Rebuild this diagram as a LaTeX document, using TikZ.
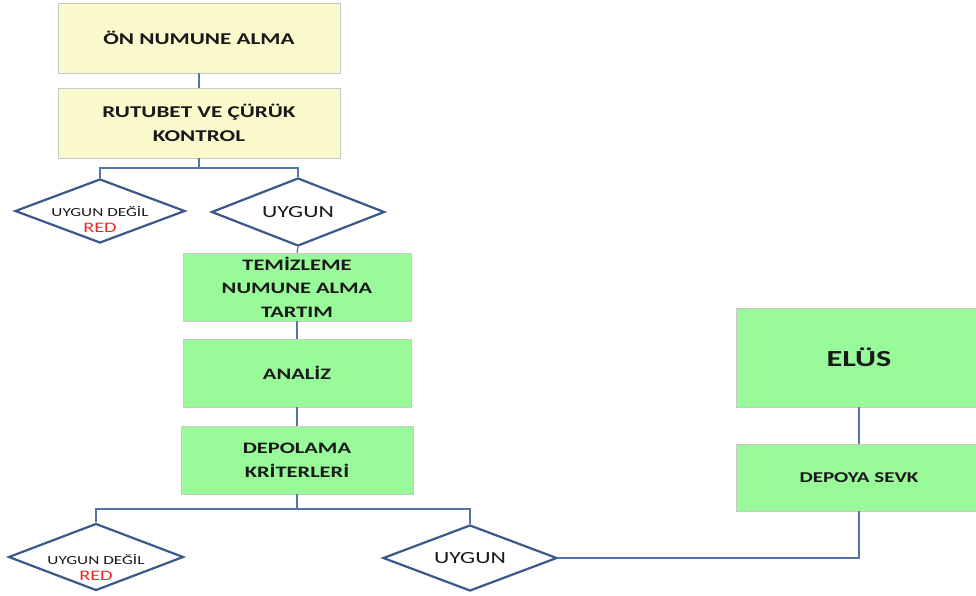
\documentclass[tikz,border=0pt]{standalone}
\usepackage{fontspec}
\setmainfont{Carlito}
\newfontfamily\wfont[FakeStretch=1.4]{Carlito}
\usetikzlibrary{shapes.geometric}
\definecolor{yelfill}{RGB}{250,250,204}
\definecolor{grnfill}{RGB}{152,250,152}
\definecolor{boxline}{RGB}{200,200,200}
\definecolor{conn}{RGB}{85,115,165}
\definecolor{dia}{RGB}{58,88,138}
\definecolor{txt}{RGB}{25,25,25}
\definecolor{redtxt}{RGB}{240,40,40}
\tikzset{
  ybox/.style={rectangle, fill=yelfill, draw=boxline, line width=0.6pt, inner sep=0pt, align=center, text=txt, font=\wfont\bfseries\fontsize{16.5}{24}\selectfont},
  gbox/.style={rectangle, fill=grnfill, draw=boxline, line width=0.6pt, inner sep=0pt, align=center, text=txt, font=\wfont\bfseries\fontsize{16}{23.5}\selectfont},
  dec/.style={diamond, aspect=2.7, draw=dia, line width=2.2pt, fill=white, inner sep=0pt, align=center, text=txt},
  smalltxt/.style={inner sep=0pt, align=center, text=txt, font=\wfont\fontsize{12.3}{16.5}\selectfont},
  bigdec/.style={dec, font=\wfont\fontsize{17}{20}\selectfont},
  conline/.style={draw=conn, line width=1.3pt}
}
\newcommand{\redword}{{\fontsize{14.5}{15}\selectfont\color{redtxt}RED}}
\begin{document}
\begin{tikzpicture}[x=1pt,y=-1pt]
\useasboundingbox (0,0) rectangle (976,596);
\node[ybox, minimum width=282pt, minimum height=70pt] (n1) at (199,38) {ÖN NUMUNE ALMA};
\node[ybox, minimum width=282pt, minimum height=70pt] (n2) at (199,123) {RUTUBET VE ÇÜRÜK\\KONTROL};
\node[dec, minimum width=170pt, minimum height=64pt,
      label={[smalltxt, yshift=-8.5pt, name=t1]center:UYGUN DEĞİL\\\redword}] (d1) at (100,211) {};
\node[bigdec, minimum width=173pt, minimum height=68pt] (d2) at (298,212) {UYGUN};
\node[gbox, minimum width=228pt, minimum height=68pt] (n3) at (297,287) {TEMİZLEME\\NUMUNE ALMA\\TARTIM};
\node[gbox, minimum width=228pt, minimum height=68pt] (n4) at (297,373) {ANALİZ};
\node[gbox, minimum width=232pt, minimum height=68pt] (n5) at (297,460) {DEPOLAMA\\KRİTERLERİ};
\node[dec, minimum width=175pt, minimum height=67pt,
      label={[smalltxt, yshift=-10.5pt, name=t3]center:UYGUN DEĞİL\\\redword}] (d3) at (96,557) {};
\node[bigdec, minimum width=174pt, minimum height=66pt] (d4) at (470,558) {UYGUN};
\node[gbox, minimum width=246pt, minimum height=99pt, font=\wfont\bfseries\fontsize{23}{26}\selectfont] (n6) at (859,357.5) {ELÜS};
\node[gbox, minimum width=246pt, minimum height=67pt, font=\wfont\bfseries\fontsize{15}{20}\selectfont] (n7) at (859,477.5) {DEPOYA SEVK};
\coordinate (j1) at (199,168);
\coordinate (j2) at (297,509);
\draw[conline] (n1.south) -- (n2.north);
\draw[conline] (n2.south) -- (j1) -| (d1.north);
\draw[conline] (j1) -| (d2.north);
\draw[conline] (d2.south) -- (n3.north);
\draw[conline] (n3.south) -- (n4.north);
\draw[conline] (n4.south) -- (n5.north);
\draw[conline] (n5.south) -- (j2) -| (d3.north);
\draw[conline] (j2) -| (d4.north);
\draw[conline] (d4.east) -| (n7.south);
\draw[conline] (n6.south) -- (n7.north);
\end{tikzpicture}
\end{document}
